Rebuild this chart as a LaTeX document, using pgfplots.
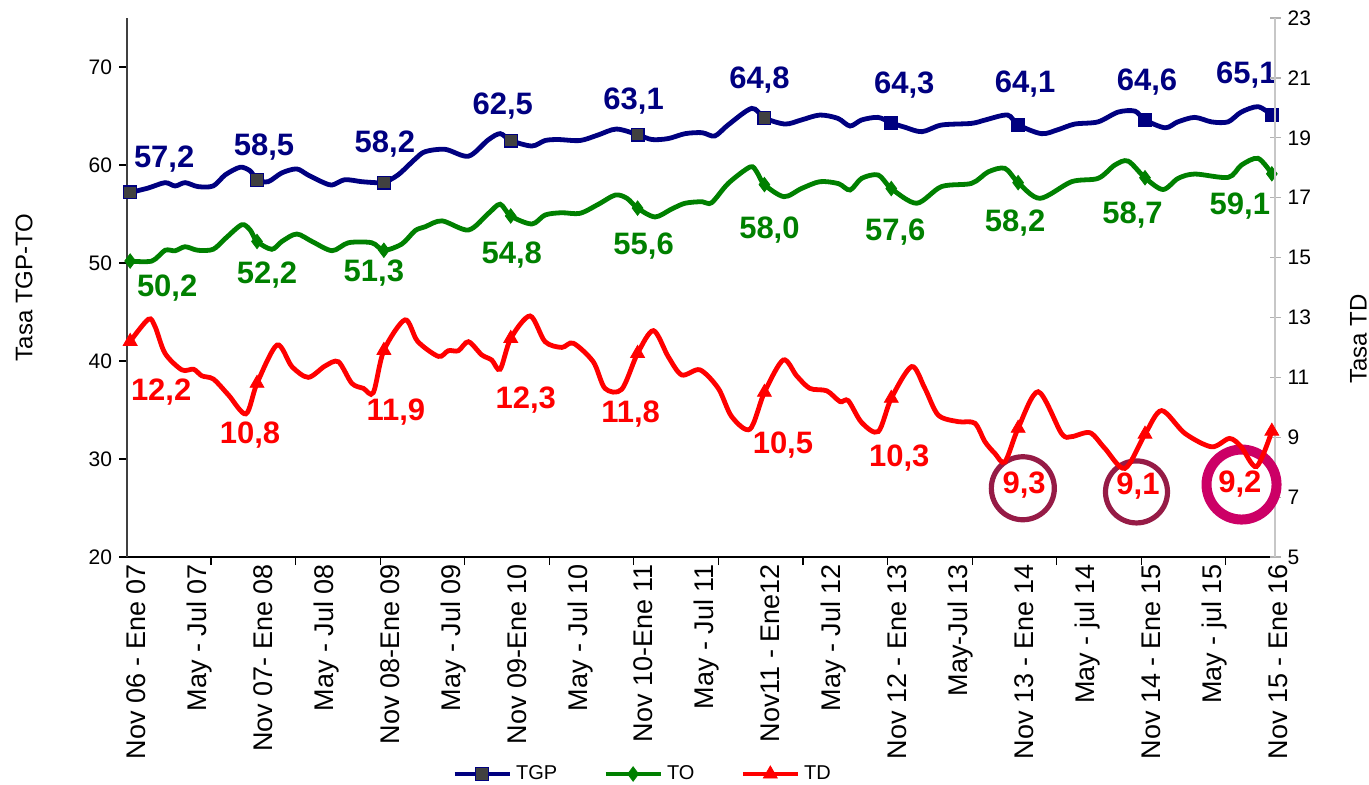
\documentclass[border=0pt]{standalone}
\usepackage{fontspec}
\setmainfont{Liberation Sans}
\usepackage{pgfplots}
\usepackage{pgfplotstable}
\pgfplotsset{compat=1.18}

\definecolor{tgp}{HTML}{000080}
\definecolor{tgpfill}{HTML}{404040}
\definecolor{to}{HTML}{008000}
\definecolor{td}{HTML}{FF0000}
\definecolor{ringA}{HTML}{961B46}
\definecolor{ringB}{HTML}{CC0066}

% monthly rolling quarters, x = months since Nov 06 - Ene 07
\pgfplotstableread{
x y
0 57.2
1.7 57.65
3.3 58.2
4.25 57.86
5.2 58.2
6.4 57.8
7.85 57.86
9.0 59.0
10.4 59.77
11.35 59.4
12 58.5
13.05 58.3
14.35 59.2
15.75 59.6
16.8 59.0
18.1 58.3
19.1 57.96
20.3 58.5
21.9 58.3
23.2 58.2
24 58.2
25.35 59.0
26.95 60.6
27.9 61.36
29.8 61.6
32.0 60.9
33.85 62.55
35.0 63.2
36 62.5
38.0 61.94
39.25 62.5
40.5 62.6
42.55 62.5
44.25 63.06
46.0 63.67
48 63.1
49.35 62.6
50.9 62.7
52.5 63.2
54.1 63.3
55.3 62.96
56.55 64.08
58.8 65.78
60 64.8
61.95 64.18
63.5 64.6
65.25 65.1
66.95 64.76
68.1 63.98
69.2 64.6
70.75 64.86
72 64.3
73.3 63.85
74.9 63.4
76.75 64.08
79.6 64.25
80.9 64.6
83.0 65.1
84 64.1
86.2 63.2
87.75 63.6
89.35 64.18
91.55 64.4
93.45 65.4
95.05 65.5
96 64.6
97.9 63.8
99.1 64.4
100.7 64.86
102.3 64.4
103.85 64.4
105.1 65.4
106.7 65.95
108 65.1
}\tgpline

\pgfplotstableread{
x y
0 50.2
2.05 50.2
3.3 51.3
4.25 51.25
5.2 51.66
6.4 51.3
7.85 51.4
9.0 52.5
10.55 53.9
11.35 53.37
12 52.2
13.4 51.4
14.35 52.2
15.75 52.96
17.2 52.2
19.1 51.26
20.65 52.07
22.85 52.07
24 51.3
25.7 51.94
26.95 53.3
27.9 53.7
29.5 54.3
32.0 53.37
33.9 55.07
35.0 56.0
36 54.8
38.0 53.98
39.25 54.9
40.8 55.13
42.55 55.07
44.3 56.0
45.9 56.94
47.0 56.6
48 55.6
49.65 54.7
51.2 55.5
52.5 56.1
54.1 56.26
55.0 56.15
56.58 58.13
58.64 59.8
59.27 59.3
60 58.0
61.85 56.77
63.5 57.6
65.25 58.3
67.0 58.1
68.1 57.45
69.2 58.64
70.77 58.98
72 57.6
74.4 56.1
76.75 57.8
79.6 58.13
81.17 59.3
82.75 59.66
84 58.2
86.06 56.6
89.06 58.3
91.57 58.64
93.15 60.0
94.4 60.4
96 58.7
97.7 57.5
99.14 58.64
100.72 59.08
103.87 58.74
105.13 60.0
106.7 60.68
108 59.1
}\toline

\pgfplotstableread{
x y
0 12.2
1.72 12.94
2.36 12.69
3.3 11.8
4.89 11.25
6.0 11.27
6.78 11.05
7.88 10.94
9.3 10.41
10.95 9.78
12 10.8
13.9 12.08
15.3 11.36
16.85 11.0
18.44 11.38
19.7 11.52
20.97 10.8
22.07 10.63
23.0 10.49
24 11.9
26.0 12.92
27.2 12.2
29.16 11.7
30.1 11.89
31.05 11.89
32.0 12.19
33.26 11.75
34.2 11.58
35.0 11.27
36 12.3
37.83 13.05
39.25 12.19
40.83 12.0
41.92 12.14
43.81 11.52
44.92 10.63
46.5 10.6
48 11.8
49.5 12.56
50.9 11.69
52.18 11.08
53.9 11.25
55.64 10.63
56.9 9.69
58.63 9.27
60 10.5
61.78 11.58
63.05 11.05
64.3 10.63
65.9 10.55
67.15 10.19
67.93 10.22
69.2 9.49
70.77 9.19
72 10.3
73.93 11.36
75.18 10.63
76.44 9.74
78.33 9.52
79.9 9.47
80.86 8.85
81.8 8.46
82.75 8.18
84 9.3
85.9 10.52
88.1 9.13
89.06 9.02
90.8 9.15
92.2 8.63
94.1 7.96
96 9.1
97.57 9.89
99.77 9.13
102.3 8.68
104.0 8.96
105.1 8.68
106.55 8.02
108 9.2
}\tdline

% marked points (Nov - Ene quarters)
\pgfplotstableread{
x y
0 57.2
12 58.5
24 58.2
36 62.5
48 63.1
60 64.8
}\tgpmkA
\pgfplotstableread{
x y
72 64.3
84 64.1
96 64.6
108 65.1
}\tgpmkB
\pgfplotstableread{
x y
0 50.2
12 52.2
24 51.3
36 54.8
48 55.6
60 58.0
72 57.6
84 58.2
96 58.7
108 59.1
}\tomk
\pgfplotstableread{
x y
0 12.2
12 10.8
24 11.9
36 12.3
48 11.8
60 10.5
72 10.3
84 9.3
96 9.1
108 9.2
}\tdmk

\pgfplotsset{
  base/.style={
    scale only axis, width=574pt, height=269.5pt,
    xmin=-0.3, xmax=108.3, clip=false,
    /pgf/number format/assume math mode=true,
    ticklabel style={font=\fontsize{10.5}{12}\selectfont},
    label style={font=\fontsize{12}{14}\selectfont},
  },
}
\tikzset{lbl/.style={anchor=center, inner sep=0pt, text=#1,
  font=\bfseries\fontsize{15.5}{17}\selectfont}}

\begin{document}
\begin{tikzpicture}
\path[use as bounding box] (-63.5pt,-113.5pt) rectangle (621pt,278.5pt);

\begin{axis}[base,
  ymin=20, ymax=75, ytick={20,30,...,70},
  axis x line*=bottom, axis y line*=left,
  axis line style={-},
  x axis line style={draw=black, line width=0.8pt},
  y axis line style={draw=black!75, line width=0.9pt},
  tick align=outside, major tick length=4pt,
  tick style={draw=black, line width=0.6pt},
  xtick={-0.35,7.65,...,103.65}, xticklabels={},
  extra x ticks={0,6,...,108},
  extra x tick labels={Nov 06 - Ene 07, May - Jul 07, Nov 07- Ene 08, May - Jul 08,
    Nov 08-Ene 09, May - Jul 09, Nov 09-Ene 10, May - Jul 10, Nov 10-Ene 11,
    May - Jul 11, Nov11 - Ene12, May - Jul 12, Nov 12 - Ene 13, May-Jul 13,
    Nov 13 - Ene 14, May - jul 14, Nov 14 - Ene 15, May - jul 15, Nov 15 - Ene 16},
  extra x tick style={major tick length=0pt,
    xticklabel style={rotate=90, anchor=east, yshift=-3pt,
      font=\fontsize{13.5}{15}\selectfont}},
  ylabel={Tasa TGP-TO},
  ylabel style={at={(axis description cs:-0.0897,0.5)}, anchor=center},
]
\addplot[tgp, line width=2.4pt, smooth, tension=0.5] table {\tgpline};
\addplot[to, line width=2.4pt, smooth, tension=0.5] table {\toline};
\addplot[only marks, mark=square*, mark size=3.2pt,
  mark options={fill=tgpfill, draw=tgp, line width=0.6pt}] table {\tgpmkA};
\addplot[only marks, mark=square*, mark size=3.2pt,
  mark options={fill=tgp, draw=tgp, line width=0.6pt}] table {\tgpmkB};
\addplot[only marks, mark=diamond*, mark size=3.6pt,
  mark options={fill=to, draw=to}] table {\tomk};

\node[lbl=tgp] at ([xshift=17pt,yshift=16.5pt]axis cs:0,57.2) {57,2};
\node[lbl=tgp] at ([xshift=3.5pt,yshift=16.5pt]axis cs:12,58.5) {58,5};
\node[lbl=tgp] at ([xshift=0.5pt,yshift=19.5pt]axis cs:24,58.2) {58,2};
\node[lbl=tgp] at ([xshift=-4pt,yshift=17pt]axis cs:36,62.5) {62,5};
\node[lbl=tgp] at ([xshift=-2pt,yshift=16.75pt]axis cs:48,63.1) {63,1};
\node[lbl=tgp] at ([xshift=-2.5pt,yshift=19pt]axis cs:60,64.8) {64,8};
\node[lbl=tgp] at ([xshift=6.5pt,yshift=19pt]axis cs:72,64.3) {64,3};
\node[lbl=tgp] at ([xshift=3.5pt,yshift=20.25pt]axis cs:84,64.1) {64,1};
\node[lbl=tgp] at ([xshift=1pt,yshift=19pt]axis cs:96,64.6) {64,6};
\node[lbl=tgp] at ([xshift=-12.75pt,yshift=20pt]axis cs:108,65.1) {65,1};

\node[lbl=to] at ([xshift=18.5pt,yshift=-13.5pt]axis cs:0,50.2) {50,2};
\node[lbl=to] at ([xshift=5pt,yshift=-17pt]axis cs:12,52.2) {52,2};
\node[lbl=to] at ([xshift=-5pt,yshift=-11.5pt]axis cs:24,51.3) {51,3};
\node[lbl=to] at ([xshift=0.5pt,yshift=-19.5pt]axis cs:36,54.8) {54,8};
\node[lbl=to] at ([xshift=3pt,yshift=-19pt]axis cs:48,55.6) {55,6};
\node[lbl=to] at ([xshift=2.5pt,yshift=-22.5pt]axis cs:60,58.0) {58,0};
\node[lbl=to] at ([xshift=2pt,yshift=-22pt]axis cs:72,57.6) {57,6};
\node[lbl=to] at ([xshift=-1.5pt,yshift=-20pt]axis cs:84,58.2) {58,2};
\node[lbl=to] at ([xshift=-6.25pt,yshift=-18.5pt]axis cs:96,58.7) {58,7};
\node[lbl=to] at ([xshift=-16pt,yshift=-16pt]axis cs:108,59.1) {59,1};
\end{axis}

\begin{axis}[base,
  ymin=5, ymax=23, ytick={5,7,...,23},
  axis x line=none, axis y line*=right,
  axis line style={-},
  y axis line style={draw=black!22, line width=0.9pt},
  tick align=center, major tick length=5.5pt,
  ytick style={draw=black!30, line width=0.6pt},
  ylabel={Tasa TD},
  ylabel style={at={(axis description cs:1.0727,0.404)}, anchor=center},
  legend style={at={(0.45,-0.4026)}, anchor=center, draw=none, fill=none,
    legend columns=3, font=\fontsize{10}{12}\selectfont,
    /tikz/every even column/.append style={column sep=21pt},
    nodes={inner xsep=2pt}},
  legend image code/.code={\draw[mark repeat=2, mark phase=2, #1]
    plot coordinates {(0pt,0pt) (13.75pt,0pt) (27.5pt,0pt)};},
]
\addlegendimage{tgp, line width=2.4pt, mark=square*, mark size=3.2pt,
  mark options={fill=tgpfill, draw=tgp, line width=0.6pt}}
\addlegendentry{TGP}
\addlegendimage{to, line width=2.4pt, mark=diamond*, mark size=3.6pt,
  mark options={fill=to, draw=to, line width=0.4pt}}
\addlegendentry{TO}
\addlegendimage{td, line width=2.4pt, mark=triangle*, mark size=4pt,
  mark options={fill=td, draw=td, line width=0.4pt}}
\addlegendentry{TD}

\draw[ringA, line width=2.6pt] ([xshift=2.35pt, yshift=-30pt]axis cs:84,9.3) circle[radius=15.75pt];
\draw[ringA, line width=2.6pt] ([xshift=-4.25pt, yshift=-28.85pt]axis cs:96,9.1) circle[radius=15.5pt];
\draw[ringB, line width=5pt] ([xshift=-15.15pt, yshift=-26.65pt]axis cs:108,9.2) circle[radius=17.5pt];

\addplot[td, line width=2.4pt, smooth, tension=0.5, forget plot] table {\tdline};
\addplot[only marks, mark=triangle*, mark size=4pt,
  mark options={fill=td, draw=td}, forget plot] table {\tdmk};

\node[lbl=td] at ([xshift=15.5pt,yshift=-25.5pt]axis cs:0,12.2) {12,2};
\node[lbl=td] at ([xshift=-3.5pt,yshift=-26pt]axis cs:12,10.8) {10,8};
\node[lbl=td] at ([xshift=6pt,yshift=-31pt]axis cs:24,11.9) {11,9};
\node[lbl=td] at ([xshift=7.5pt,yshift=-31pt]axis cs:36,12.3) {12,3};
\node[lbl=td] at ([xshift=-3.5pt,yshift=-30.25pt]axis cs:48,11.8) {11,8};
\node[lbl=td] at ([xshift=9.25pt,yshift=-26.5pt]axis cs:60,10.5) {10,5};
\node[lbl=td] at ([xshift=4pt,yshift=-30pt]axis cs:72,10.3) {10,3};
\node[lbl=td] at ([xshift=3pt,yshift=-28.25pt]axis cs:84,9.3) {9,3};
\node[lbl=td] at ([xshift=-3.5pt,yshift=-26pt]axis cs:96,9.1) {9,1};
\node[lbl=td] at ([xshift=-16pt,yshift=-26.5pt]axis cs:108,9.2) {9,2};
\end{axis}
\end{tikzpicture}
\end{document}
